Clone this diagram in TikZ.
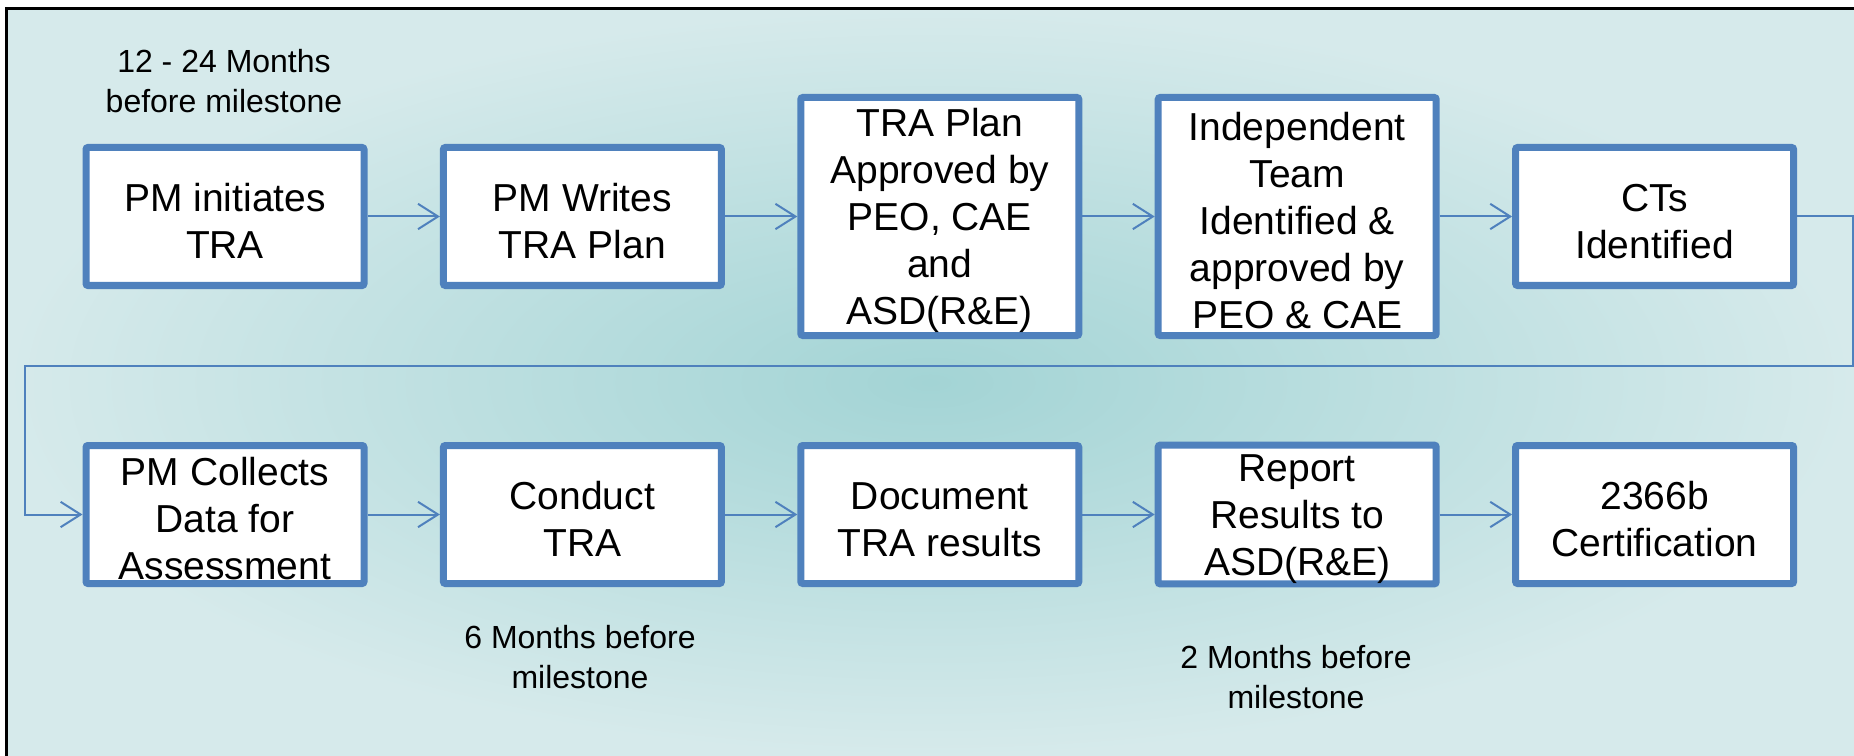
\documentclass[tikz,border=0pt]{standalone}
\usepackage{fontspec}
\setmainfont{Liberation Sans}
\usetikzlibrary{arrows.meta}

\definecolor{boxblue}{RGB}{79,129,189}
\definecolor{bgin}{RGB}{163,212,213}
\definecolor{bgout}{RGB}{214,234,235}

% taller first line pushes box text down a little
\newcommand{\capstrut}{\rule{0pt}{27.5pt}}

\tikzset{every picture/.style={line width=0.75pt}}
\tikzset{
  stepbox/.style={draw=boxblue, line width=5.25pt, fill=white, rounded corners=1.5pt, inner sep=0pt, align=center,
    minimum width=208.5pt, minimum height=103.5pt, font=\fontsize{29.25}{35.25}\selectfont},
  tallbox/.style={stepbox, minimum height=178.5pt},
  flowline/.style={draw=boxblue, line width=1.5pt, -{Straight Barb[length=15pt,width=19pt]}},
  timenote/.style={align=center, font=\fontsize{24}{30}\selectfont}
}

\begin{document}
\begin{tikzpicture}[x=0.75pt,y=0.75pt,yscale=-1,xscale=1]
\useasboundingbox (0,0) rectangle (1854,756);

%Shape: Background
\shade[inner color=bgin, outer color=bgout] (6,9) rectangle (1854,756);
\draw[line width=2.25pt] (1854,9) -- (6,9) -- (6,756);

% Text Node
\node[stepbox] (init) at (225,216.5) {\capstrut PM initiates\\TRA};
% Text Node
\node[stepbox] (writes) at (582.4,216.5) {\capstrut PM Writes\\TRA Plan};
% Text Node
\node[tallbox] (plan) at (939.8,216.5) {\capstrut TRA Plan\\Approved by\\PEO, CAE\\and\\ASD(R\&E)};
% Text Node
\node[tallbox] (team) at (1297.2,216.5) {\capstrut Independent\\Team\\Identified \&\\approved by\\PEO \& CAE};
% Text Node
\node[stepbox] (ctid) at (1654.6,216.5) {\capstrut CTs\\Identified};

% Text Node
\node[stepbox] (collect) at (225,514.5) {\capstrut PM Collects\\Data for\\Assessment};
% Text Node
\node[stepbox] (conduct) at (582.4,514.5) {\capstrut Conduct\\TRA};
% Text Node
\node[stepbox] (document) at (939.8,514.5) {\capstrut Document\\TRA results};
% Text Node
\node[stepbox] (report) at (1297.2,514.5) {\capstrut Report\\Results to\\ASD(R\&E)};
% Text Node
\node[stepbox] (cert) at (1654.6,514.5) {\capstrut 2366b\\Certification};

% Text Node
\node[timenote] (startnote) at (224,81) {12 - 24 Months\\before milestone};
% Text Node
\node[timenote] (conductnote) at (580,657) {6 Months before\\milestone};
% Text Node
\node[timenote] (reportnote) at (1296,677) {2 Months before\\milestone};

%Straight Lines
\draw[flowline] (init) -- (writes);
\draw[flowline] (writes) -- (plan);
\draw[flowline] (plan) -- (team);
\draw[flowline] (team) -- (ctid);

%Connector: wrap to second row
\coordinate (loopr) at (1853,366);
\coordinate (loopl) at (25,366);
\draw[flowline] (ctid.east) -| (loopr) -- (loopl) |- (collect.west);

%Straight Lines
\draw[flowline] (collect) -- (conduct);
\draw[flowline] (conduct) -- (document);
\draw[flowline] (document) -- (report);
\draw[flowline] (report) -- (cert);

\end{tikzpicture}
\end{document}
